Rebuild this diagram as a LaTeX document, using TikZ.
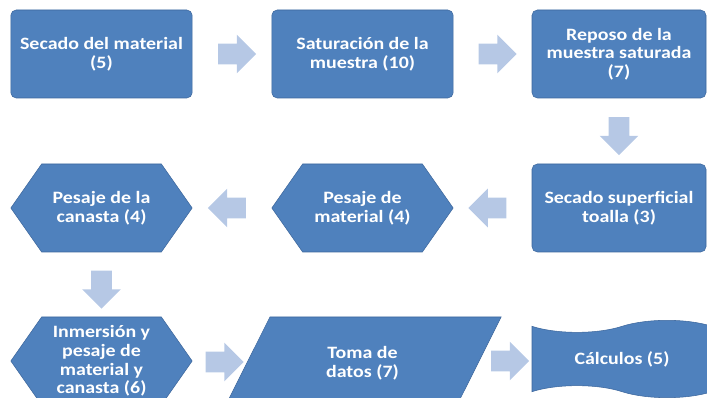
\documentclass[tikz,border=0pt]{standalone}
\usepackage{fontspec}
\setmainfont{Carlito}[FakeStretch=1.15]
\usetikzlibrary{shapes.geometric,shapes.symbols,shapes.arrows,calc}

\definecolor{stepblue}{RGB}{79,129,189}
\definecolor{stepedge}{RGB}{60,102,156}
\definecolor{arrowblue}{RGB}{182,200,229}

\begin{document}
\begin{tikzpicture}[x=0.75pt, y=-0.75pt,
    every node/.style={font=\fontsize{13}{14}\selectfont\bfseries, text=white, align=center},
    stepbox/.style={rectangle, rounded corners=4pt, draw=stepedge, fill=stepblue,
      minimum width=136pt, minimum height=66pt, inner sep=2pt},
    hexbox/.style={signal, signal to=west and east, signal pointer angle=110,
      draw=stepedge, fill=stepblue, minimum width=136pt, minimum height=66pt, inner sep=2pt},
    databox/.style={trapezium, trapezium left angle=63.4, trapezium right angle=116.6,
      draw=stepedge, fill=stepblue, minimum width=142pt, minimum height=69pt, inner sep=2pt},
    tapebox/.style={tape, tape bend top=in and out, tape bend bottom=out and in,
      tape bend height=9pt, draw=stepedge, fill=stepblue,
      minimum width=135pt, minimum height=58pt, inner sep=2pt},
    blockarrow/.style={single arrow, fill=arrowblue, draw=none, inner xsep=0pt,
      inner ysep=7.5pt, minimum height=28.5pt, single arrow head extend=6.75pt,
      single arrow head indent=0pt},
    downarrow/.style={blockarrow, shape border rotate=270, inner xsep=7.5pt, inner ysep=0pt}]
  \useasboundingbox (0,0) rectangle (707,398);
  \clip (0,0) rectangle (707,398);

  % Fila 1
  \node[stepbox] (secado)    at (101.5,54) {Secado del material\\(5)};
  \node[stepbox] (saturacion) at (362.5,54) {Saturación de la\\muestra (10)};
  \node[stepbox, minimum width=130.5pt] (reposo) at (619,54) {Reposo de la\\muestra saturada\\(7)};

  % Fila 2
  \node[stepbox, minimum width=130.5pt] (toalla) at (619,208) {Secado superficial\\toalla (3)};
  \node[hexbox] (pesajemat) at (362.5,208) {Pesaje de\\material (4)};
  \node[hexbox] (pesajecan) at (101.5,208) {Pesaje de la\\canasta (4)};

  % Fila 3
  \node[hexbox] (inmersion) at (101.5,361) {Inmersión y\\pesaje de\\material y\\canasta (6)};
  \node[databox] (datos) at (362.5,363) {Toma de\\datos (7)};
  \node[tapebox] (calculos) at (622,359) {Cálculos (5)};

  % Flechas de bloque
  \node[blockarrow] (f1) at ($(secado.east)!0.5!(saturacion.west)$) {};
  \node[blockarrow] (f2) at ($(saturacion.east)!0.5!(reposo.west)$) {};
  \node[downarrow] (f3) at ($(reposo.south)!0.5!(toalla.north)$) {};
  \node[blockarrow, shape border rotate=180] (f4) at ($(toalla.west)!0.5!(pesajemat.east)$) {};
  \node[blockarrow, shape border rotate=180] (f5) at ($(pesajemat.west)!0.5!(pesajecan.east)$) {};
  \node[downarrow] (f6) at ($(pesajecan.south)!0.5!(inmersion.north)$) {};
  \node[blockarrow] (f7) at ($(inmersion.east)!0.5!(datos.west)$) {};
  \node[blockarrow] (f8) at ($(datos.east)!0.5!(calculos.west)$) {};
\end{tikzpicture}
\end{document}
